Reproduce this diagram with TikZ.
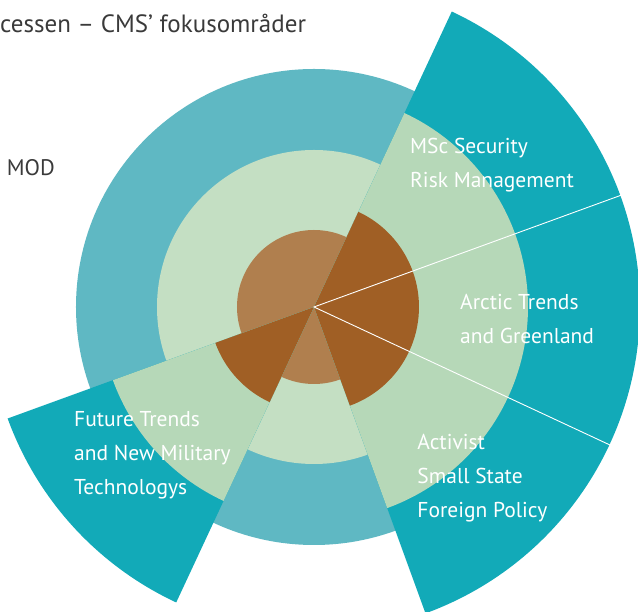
\documentclass[tikz,border=0pt]{standalone}
\usepackage{fontspec}
\setmainfont{PT Sans}
\definecolor{tealbase}{HTML}{5FB8C3}
\definecolor{tealhi}{HTML}{12AAB8}
\definecolor{greenbase}{HTML}{C4DFC3}
\definecolor{greenhi}{HTML}{B6D8B8}
\definecolor{brownbase}{HTML}{B07F4E}
\definecolor{brownhi}{HTML}{A05F25}
\definecolor{darktext}{HTML}{3A3A3A}
\begin{document}
\begin{tikzpicture}[x=1pt, y=1pt,
  focus/.style={text=white, font=\fontsize{21.5}{34}\selectfont, align=left, anchor=base west, inner sep=0pt},
  caption/.style={text=darktext, anchor=base west, inner sep=0pt}]
\useasboundingbox (-314,-305) rectangle (324,307);
\clip (-314,-305) rectangle (324,307);
% base rings
\fill[tealbase] (0,0) circle (238);
\fill[greenbase] (0,0) circle (157);
\fill[brownbase] (0,0) circle (77);
% focus sectors
\fill[tealhi] (0,0) -- (20:326) arc (20:65:326) -- cycle;
\fill[tealhi] (0,0) -- (-25:326) arc (-25:20:326) -- cycle;
\fill[tealhi] (0,0) -- (-70:326) arc (-70:-25:326) -- cycle;
\fill[tealhi] (0,0) -- (200:326) arc (200:245:326) -- cycle;
\fill[greenhi] (0,0) -- (20:214) arc (20:65:214) -- cycle;
\fill[greenhi] (0,0) -- (-25:214) arc (-25:20:214) -- cycle;
\fill[greenhi] (0,0) -- (-70:214) arc (-70:-25:214) -- cycle;
\fill[greenhi] (0,0) -- (200:214) arc (200:245:214) -- cycle;
\fill[brownhi] (0,0) -- (20:105) arc (20:65:105) -- cycle;
\fill[brownhi] (0,0) -- (-25:105) arc (-25:20:105) -- cycle;
\fill[brownhi] (0,0) -- (-70:105) arc (-70:-25:105) -- cycle;
\fill[brownhi] (0,0) -- (200:105) arc (200:245:105) -- cycle;
\coordinate (c) at (0,0);
\coordinate (cut1) at (20:327);
\coordinate (cut2) at (-25:327);
\draw[white, line width=0.9pt] (cut1) -- (c) -- (cut2);
% texts
\node[caption, font=\fontsize{25}{30}\selectfont] (title) at (-314,274.7) {cessen – CMS’ fokusområder};
\node[caption, font=\fontsize{22.5}{26}\selectfont] (mod) at (-307.3,131.3) {MOD};
\node[focus] (msc) at (96,119.7) {MSc Security\\Risk Management};
\node[focus] (arctic) at (146,-36.3) {Arctic Trends\\and Greenland};
\node[focus] (activist) at (103.3,-210.3) {Activist\\Small State\\Foreign Policy};
\node[focus] (future) at (-240,-188) {Future Trends\\and New Military\\Technologys};
\end{tikzpicture}
\end{document}
